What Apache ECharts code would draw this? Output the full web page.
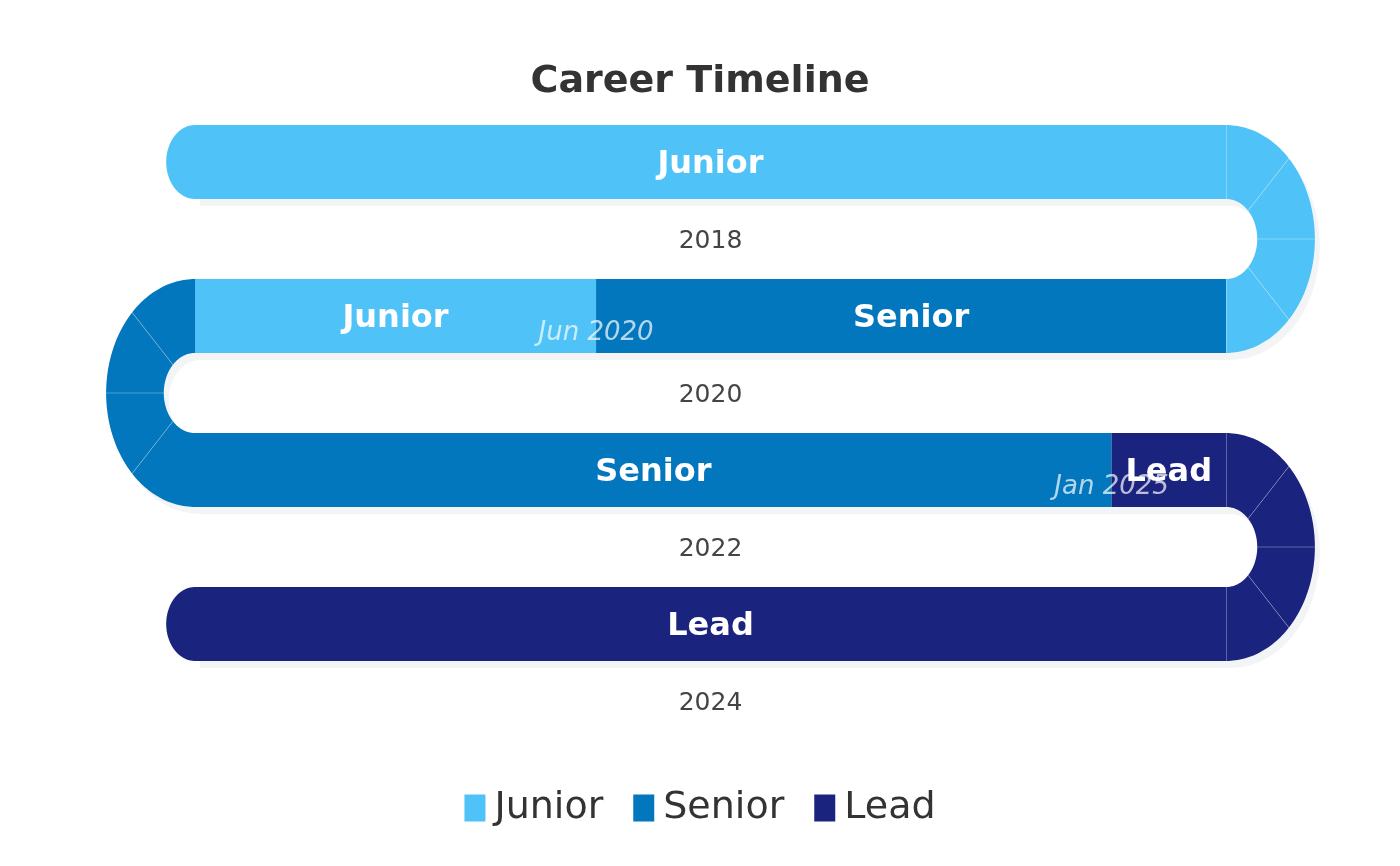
<!DOCTYPE html>
<html>
<head>
<meta charset="utf-8">
<title>Career Timeline</title>
<script src="https://cdn.jsdelivr.net/npm/echarts@6/dist/echarts.min.js"></script>
<style>
  html, body { margin: 0; padding: 0; background: #fff; }
  #chart { width: 1400px; height: 866px; }
</style>
</head>
<body>
<div id="chart"></div>
<script>
// rows of the snake, one per label
const years = ['2018', '2020', '2022', '2024'];
const stageNames = ['Junior', 'Senior', 'Lead'];
const stageColors = ['#4FC3F7', '#0277BD', '#1A237E'];

// straight pieces: row, start, end (0..1 along the row), stage
const pieceRow = [0, 1, 1, 2, 2, 3];
const pieceFrom = [0, 0, 0.389, 0, 0.889, 0];
const pieceTo = [1, 0.389, 1, 0.889, 1, 1];
const pieceStage = [0, 0, 1, 1, 2, 2];

// turns joining row r to row r+1; side 1 = right end, 0 = left end
const turnRow = [0, 1, 2];
const turnSide = [1, 0, 1];
const turnStage = [0, 1, 2];

// change points
const milestoneText = ['Jun 2020', 'Jan 2025'];
const milestoneRow = [1, 2];
const milestoneAt = [0.389, 0.889];

const HALF = 0.24;     // half bar thickness, in rows
const ASPECT = 0.78;   // horizontal squeeze of the round parts
const SHADOW = '#f3f4f6';
const FONT = 'DejaVu Sans';

const lastRow = years.length - 1;

function arcPoints(cx, cy, dir, rx, ry, a0, a1, n) {
  const pts = [];
  for (let k = 0; k <= n; k++) {
    const t = (a0 + (a1 - a0) * k / n) * Math.PI / 180;
    pts.push([cx + dir * rx * Math.cos(t), cy + ry * Math.sin(t)]);
  }
  return pts;
}

function wedge(cx, cy, dir, ryOut, ryIn, a0, a1) {
  const outer = arcPoints(cx, cy, dir, ryOut * ASPECT, ryOut, a0, a1, 30);
  const inner = arcPoints(cx, cy, dir, ryIn * ASPECT, ryIn, a1, a0, 30);
  return outer.concat(inner);
}

function pieceRect(api, row, x0, x1) {
  const p0 = api.coord([x0, row - HALF]);
  const p1 = api.coord([x1, row + HALF]);
  return { x: p0[0], y: p0[1], width: p1[0] - p0[0], height: p1[1] - p0[1] };
}

function turnGeom(api, row, side) {
  const c = api.coord([side, row + 0.5]);
  const unit = api.size([0, 1])[1];
  return {
    cx: c[0], cy: c[1], dir: side ? 1 : -1,
    ryOut: (0.5 + HALF) * unit, ryIn: (0.5 - HALF) * unit
  };
}

function renderShadowPiece(params, api) {
  const r = pieceRect(api, api.value(0), api.value(1), api.value(2));
  return {
    type: 'rect',
    shape: { x: r.x + 5, y: r.y + 7, width: r.width, height: r.height },
    style: { fill: SHADOW }
  };
}

function renderShadowTurn(params, api) {
  const g = turnGeom(api, api.value(0), api.value(1));
  return {
    type: 'polygon',
    shape: { points: wedge(g.cx + 5, g.cy + 7, g.dir, g.ryOut, g.ryIn, -90, 90) },
    style: { fill: SHADOW }
  };
}

function makePieceRenderer(color) {
  return function (params, api) {
    const row = api.value(0), x0 = api.value(1), x1 = api.value(2);
    const r = pieceRect(api, row, x0, x1);
    const children = [{ type: 'rect', shape: r, style: { fill: color } }];
    if (x0 === 0 && (row === 0 || row === lastRow)) {
      const ry = r.height / 2;
      const pts = arcPoints(r.x, r.y + ry, -1, ry * ASPECT, ry, -90, 90, 30);
      children.push({ type: 'polygon', shape: { points: pts }, style: { fill: color } });
    }
    return { type: 'group', children: children };
  };
}

function makeTurnRenderer(color) {
  return function (params, api) {
    const side = api.value(1);
    const g = turnGeom(api, api.value(0), side);
    const children = [];
    const cuts = [-90, -45, 0, 45, 90];
    for (let i = 0; i < 4; i++) {
      children.push({
        type: 'polygon',
        shape: { points: wedge(g.cx, g.cy, g.dir, g.ryOut, g.ryIn, cuts[i], cuts[i + 1]) },
        style: { fill: color }
      });
    }
    const lines = side ? cuts : cuts.slice(1, 4);
    lines.forEach(function (a) {
      const t = a * Math.PI / 180;
      const xo = side && Math.abs(a) === 90 ? 0.5 : 0;
      children.push({
        type: 'line',
        shape: {
          x1: g.cx + g.dir * g.ryIn * ASPECT * Math.cos(t) + xo, y1: g.cy + g.ryIn * Math.sin(t),
          x2: g.cx + g.dir * g.ryOut * ASPECT * Math.cos(t) + xo, y2: g.cy + g.ryOut * Math.sin(t)
        },
        style: { stroke: 'rgba(255,255,255,0.3)', lineWidth: 1 }
      });
    });
    return { type: 'group', children: children };
  };
}

function textEl(x, y, text, size, weight, style, fill) {
  return {
    type: 'text',
    style: {
      text: text, x: x, y: y,
      textAlign: 'center', textVerticalAlign: 'middle',
      align: 'center', verticalAlign: 'middle',
      fontSize: size, fontWeight: weight, fontStyle: style, fontFamily: FONT,
      fill: fill
    }
  };
}

const pieceData = pieceRow.map((r, i) => [r, pieceFrom[i], pieceTo[i], pieceStage[i]]);
const turnData = turnRow.map((r, i) => [r, turnSide[i], turnStage[i]]);

const series = [
  { type: 'custom', name: 'shadowPieces', z: 1, silent: true, clip: false,
    renderItem: renderShadowPiece, data: pieceData },
  { type: 'custom', name: 'shadowTurns', z: 1, silent: true, clip: false,
    renderItem: renderShadowTurn, data: turnData }
];

stageNames.forEach(function (name, s) {
  series.push({
    type: 'custom', name: name, z: 2, clip: false,
    itemStyle: { color: stageColors[s] },
    renderItem: makePieceRenderer(stageColors[s]),
    data: pieceData.filter(d => d[3] === s)
  });
});
stageNames.forEach(function (name, s) {
  series.push({
    type: 'custom', name: name, z: 2, clip: false,
    itemStyle: { color: stageColors[s] },
    renderItem: makeTurnRenderer(stageColors[s]),
    data: turnData.filter(d => d[2] === s)
  });
});

// year under each row
series.push({
  type: 'custom', name: 'years', z: 3, silent: true, clip: false,
  renderItem: function (params, api) {
    const p = api.coord([0.5, api.value(0) + 0.5]);
    return textEl(p[0], p[1] + 2, years[params.dataIndex], 25, 'normal', 'normal', '#444');
  },
  data: years.map((y, i) => [i])
});

// change point captions
series.push({
  type: 'custom', name: 'milestones', z: 3, silent: true, clip: false,
  renderItem: function (params, api) {
    const p = api.coord([api.value(1), api.value(0) + 0.1]);
    return textEl(p[0], p[1] + 2, milestoneText[params.dataIndex], 26, 'normal', 'italic',
      'rgba(255,255,255,0.7)');
  },
  data: milestoneRow.map((r, i) => [r, milestoneAt[i]])
});

// stage names on the pieces
series.push({
  type: 'custom', name: 'pieceLabels', z: 4, silent: true, clip: false,
  renderItem: function (params, api) {
    const p = api.coord([(api.value(1) + api.value(2)) / 2, api.value(0)]);
    return textEl(p[0], p[1] + 3, stageNames[api.value(3)], 32, 'bold', 'normal', '#fff');
  },
  data: pieceData
});

const chart = echarts.init(document.getElementById('chart'));

const option = {
  animation: false,
  backgroundColor: '#fff',
  textStyle: { fontFamily: FONT },
  title: {
    text: 'Career Timeline',
    left: 'center',
    top: 58,
    textStyle: { fontSize: 38, fontWeight: 'bold', color: '#333', fontFamily: FONT }
  },
  legend: {
    data: stageNames,
    left: 'center',
    top: 784,
    icon: 'rect',
    itemWidth: 21,
    itemHeight: 27,
    itemGap: 30,
    textStyle: { fontSize: 38, color: '#333', fontFamily: FONT, padding: [0, 0, 0, 4] }
  },
  grid: { left: 195, right: 174, top: 85, bottom: 165 },
  xAxis: { type: 'value', min: 0, max: 1, show: false },
  yAxis: { type: 'value', min: -0.5, max: 3.5, inverse: true, show: false },
  series: series
};

chart.setOption(option);
</script>
</body>
</html>
